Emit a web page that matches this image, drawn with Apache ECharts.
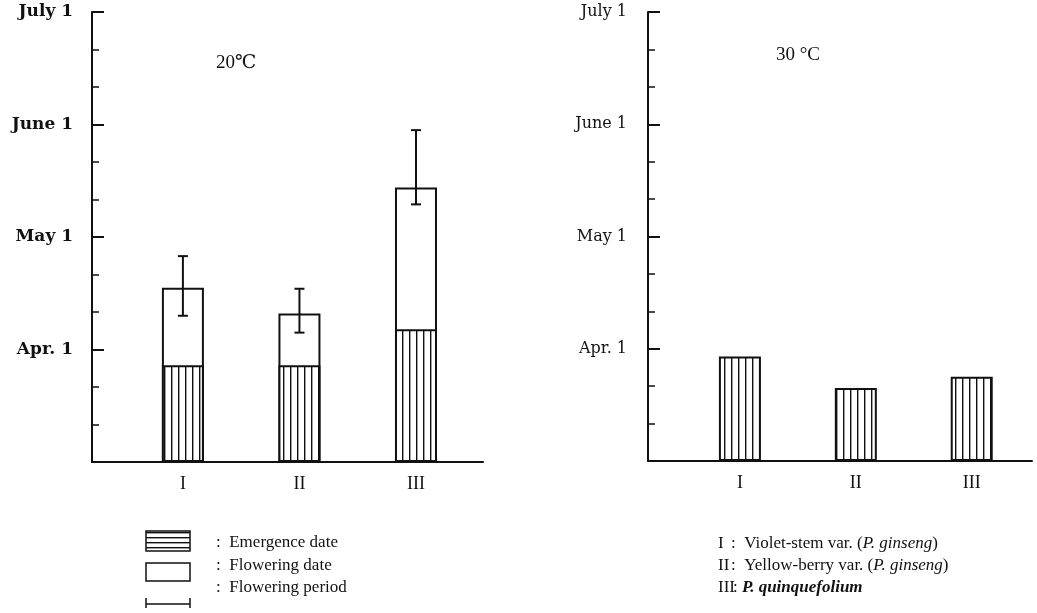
<!DOCTYPE html>
<html>
<head>
<meta charset="utf-8">
<script src="https://cdn.jsdelivr.net/npm/echarts@6/dist/echarts.min.js"></script>
<style>
  html, body { margin: 0; padding: 0; background: #fff; }
  #main { width: 1037px; height: 613px; }
</style>
</head>
<body>
<div id="main"></div>
<script>
// values are months after Mar. 1 (1 = Apr. 1, 2 = May 1, ...)
const categories = ['I', 'II', 'III'];
const yTickLabels = ['', 'Apr. 1', 'May 1', 'June 1', 'July 1'];
const emergence20 = [0.86, 0.86, 1.18];
const flowering20 = [1.55, 1.32, 2.44];
const periodLow20 = [1.30, 1.15, 2.29];
const periodHigh20 = [1.83, 1.54, 2.95];
const emergence30 = [0.93, 0.65, 0.75];

const ink = '#111';
const serif = '"Liberation Serif", "DejaVu Serif", serif';

function makeStripes(vertical) {
    const c = document.createElement('canvas');
    c.width = vertical ? 7 : 4;
    c.height = vertical ? 4 : 5;
    const ctx = c.getContext('2d');
    ctx.fillStyle = '#fff';
    ctx.fillRect(0, 0, c.width, c.height);
    ctx.fillStyle = ink;
    if (vertical) ctx.fillRect(3, 0, 1.4, c.height);
    else ctx.fillRect(0, 2, c.width, 1.4);
    return c;
}
const vHatch = {image: makeStripes(true), repeat: 'repeat'};
const hHatch = {image: makeStripes(false), repeat: 'repeat'};

const pts = arr => arr.map((v, i) => [i + 1, v]);

function xAxis(idx, min, max) {
    return {
        type: 'value', gridIndex: idx, min: min, max: max,
        splitLine: {show: false},
        axisLine: {show: true, onZero: false, lineStyle: {color: ink, width: 2}},
        axisTick: {show: false},
        axisLabel: {
            customValues: [1, 2, 3],
            formatter: v => categories[Math.round(v) - 1] || '',
            margin: 13, color: ink, fontFamily: serif, fontSize: 18
        }
    };
}

function yAxis(idx, bold) {
    return {
        type: 'value', gridIndex: idx, min: 0, max: 4, interval: 1,
        splitLine: {show: false},
        axisLine: {show: true, onZero: false, lineStyle: {color: ink, width: 2}},
        axisTick: {show: true, inside: true, length: 12, lineStyle: {color: ink, width: 2}},
        minorTick: {show: true, splitNumber: 3, length: 7, lineStyle: {color: ink, width: 1.5}},
        axisLabel: {
            formatter: v => yTickLabels[v] || '',
            margin: bold ? 19 : 21, color: ink, fontSize: bold ? 17 : 16,
            fontFamily: '"DejaVu Serif", serif', fontWeight: bold ? 'bold' : 'normal'
        }
    };
}

function errorBars(idx, low, high) {
    return {
        type: 'custom', xAxisIndex: idx, yAxisIndex: idx, z: 5,
        data: low.map((v, i) => [i + 1, v, high[i]]),
        renderItem: function (params, api) {
            const top = api.coord([api.value(0), api.value(2)]);
            const bot = api.coord([api.value(0), api.value(1)]);
            const s = {stroke: ink, lineWidth: 2};
            return {
                type: 'group',
                children: [
                    {type: 'line', shape: {x1: top[0], y1: top[1], x2: bot[0], y2: bot[1]}, style: s},
                    {type: 'line', shape: {x1: top[0] - 5, y1: top[1], x2: top[0] + 5, y2: top[1]}, style: s},
                    {type: 'line', shape: {x1: bot[0] - 5, y1: bot[1], x2: bot[0] + 5, y2: bot[1]}, style: s}
                ]
            };
        }
    };
}

const barBorder = {borderColor: ink, borderWidth: 2};

const txt = (x, y, text, extra) => ({
    type: 'text', x: x, y: y,
    style: Object.assign({text: text, fill: ink, font: '17px ' + serif, verticalAlign: 'middle'}, extra || {})
});

const option = {
    animation: false,
    backgroundColor: '#fff',
    grid: [
        {left: 92, right: 554, top: 12, bottom: 151, outerBoundsMode: 'none'},
        {left: 648, right: 5, top: 12, bottom: 152, outerBoundsMode: 'none'}
    ],
    xAxis: [xAxis(0, 0.22, 3.575), xAxis(1, 0.207, 3.52)],
    yAxis: [yAxis(0, true), yAxis(1, false)],
    series: [
        {
            name: 'Flowering date', type: 'bar', xAxisIndex: 0, yAxisIndex: 0,
            barWidth: 42, barGap: '-100%',
            itemStyle: Object.assign({color: '#fff'}, barBorder),
            data: pts(flowering20)
        },
        {
            name: 'Emergence date', type: 'bar', xAxisIndex: 0, yAxisIndex: 0,
            barWidth: 42, barGap: '-100%',
            itemStyle: Object.assign({color: vHatch}, barBorder),
            data: pts(emergence20)
        },
        errorBars(0, periodLow20, periodHigh20),
        {
            name: 'Emergence date 30', type: 'bar', xAxisIndex: 1, yAxisIndex: 1,
            barWidth: 42,
            itemStyle: Object.assign({color: vHatch}, barBorder),
            data: pts(emergence30)
        }
    ],
    graphic: [
        txt(216, 63, '20℃', {font: '19px ' + serif}),
        txt(776, 55, '30 °C', {font: '19px ' + serif}),
        // legend, left block
        {type: 'rect', shape: {x: 146, y: 531, width: 44, height: 20},
            style: {fill: hHatch, stroke: ink, lineWidth: 1.5}},
        {type: 'rect', shape: {x: 146, y: 563, width: 44, height: 18},
            style: {fill: '#fff', stroke: ink, lineWidth: 1.5}},
        {type: 'line', shape: {x1: 146, y1: 604, x2: 190, y2: 604}, style: {stroke: ink, lineWidth: 1.5}},
        {type: 'line', shape: {x1: 146, y1: 598, x2: 146, y2: 608}, style: {stroke: ink, lineWidth: 1.5}},
        {type: 'line', shape: {x1: 190, y1: 598, x2: 190, y2: 608}, style: {stroke: ink, lineWidth: 1.5}},
        txt(216, 543, ':  Emergence date'),
        txt(216, 566, ':  Flowering date'),
        txt(216, 588, ':  Flowering period'),
        // legend, right block
        txt(718, 544, 'I'),
        txt(718, 566, 'II'),
        txt(718, 588, 'III'),
        txt(731, 544, ':  Violet-stem var. ({i|P. ginseng})',
            {rich: {i: {font: 'italic 17px ' + serif, fill: ink}}}),
        txt(731, 566, ':  Yellow-berry var. ({i|P. ginseng})',
            {rich: {i: {font: 'italic 17px ' + serif, fill: ink}}}),
        txt(733, 588, ': {i|P. quinquefolium}',
            {rich: {i: {font: 'italic bold 17px ' + serif, fill: ink}}})
    ]
};

const chart = echarts.init(document.getElementById('main'), null, {renderer: 'canvas'});
chart.setOption(option);
</script>
</body>
</html>
